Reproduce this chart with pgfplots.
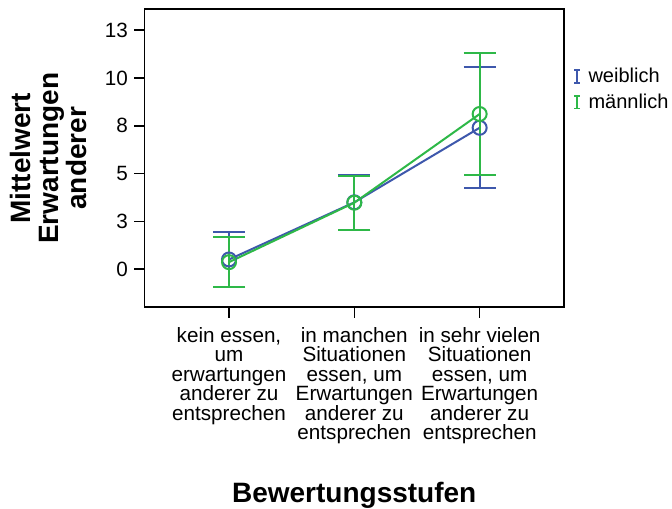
\documentclass[border=0pt]{standalone}
\usepackage{pgfplots}
\pgfplotsset{compat=1.18}
\usepackage{fontspec}
\setmainfont{Liberation Sans}
\definecolor{spssblue}{RGB}{62,88,172}
\definecolor{spssgreen}{RGB}{46,184,72}
\begin{document}
\begin{tikzpicture}
\path[use as bounding box] (0,0) rectangle (504pt,381.75pt);
\begin{axis}[
  at={(108.5pt,151.3pt)}, anchor=south west,
  scale only axis, width=314.3pt, height=223.5pt,
  xmin=-0.673, xmax=2.671, ymin=-1.99, ymax=13.6,
  axis line style={line width=1.2pt, black},
  xtick={0,1,2},
  xticklabels={{kein essen,\\um\\erwartungen\\anderer zu\\entsprechen},
               {in manchen\\Situationen\\essen, um\\Erwartungen\\anderer zu\\entsprechen},
               {in sehr vielen\\Situationen\\essen, um\\Erwartungen\\anderer zu\\entsprechen}},
  ytick={0,2.5,5,7.5,10,12.5},
  yticklabels={0,3,5,8,10,13},
  xtick pos=bottom, ytick pos=left,
  tick align=outside,
  major tick length=8pt,
  tick style={line width=1.2pt, black},
  /pgf/number format/assume math mode=true,
  ticklabel style={font=\fontsize{15.5}{14.6}\selectfont},
  xticklabel style={align=center, anchor=north, yshift=-3.5pt},
  yticklabel style={anchor=east, xshift=-1pt},
  xlabel={Bewertungsstufen},
  xlabel style={font=\fontsize{21}{21}\selectfont\bfseries, at={(rel axis cs:0.5,0)}, anchor=base, yshift=-146.8pt},
  ylabel={Mittelwert\\Erwartungen\\anderer},
  ylabel style={font=\fontsize{21}{21}\selectfont\bfseries, align=center, at={(rel axis cs:0,0.5)}, anchor=center, yshift=71.8pt},
  legend style={at={(rel axis cs:1,1)}, anchor=north west, xshift=6pt, yshift=-41pt, draw=none, fill=none,
    font=\fontsize{15}{15}\selectfont, row sep=3pt, inner sep=1pt, nodes={inner xsep=3pt}},
  legend cell align=left,
  legend image code/.code={\draw[#1, line width=1pt] (4pt,-4.8pt)--(4pt,4.8pt) (1.8pt,4.8pt)--(6.2pt,4.8pt) (1.8pt,-4.8pt)--(6.2pt,-4.8pt);},
  legend image post style={xshift=-1pt},
]
\addplot[color=spssblue, line width=1.5pt, mark=o, mark size=5.25pt, mark options={line width=1.5pt},
  error bars/.cd, y dir=both, y explicit,
  error bar style={line width=1.5pt, spssblue},
  error mark options={line width=1.5pt, mark size=12pt, rotate=90, spssblue}]
  coordinates {(0,0.51) +- (0,1.42) (1,3.50) +- (0,1.45) (2,7.40) +- (0,3.17)};
\addlegendentry{\hspace{3pt}weiblich}
\addplot[color=spssgreen, line width=1.5pt, mark=o, mark size=5.25pt, mark options={line width=1.5pt},
  error bars/.cd, y dir=both, y explicit,
  error bar style={line width=1.5pt, spssgreen},
  error mark options={line width=1.5pt, mark size=12pt, rotate=90, spssgreen}]
  coordinates {(0,0.37) +- (0,1.30) (1,3.48) +- (0,1.42) (2,8.12) +- (0,3.17)};
\addlegendentry{\hspace{3pt}männlich}
\end{axis}
\end{tikzpicture}
\end{document}
